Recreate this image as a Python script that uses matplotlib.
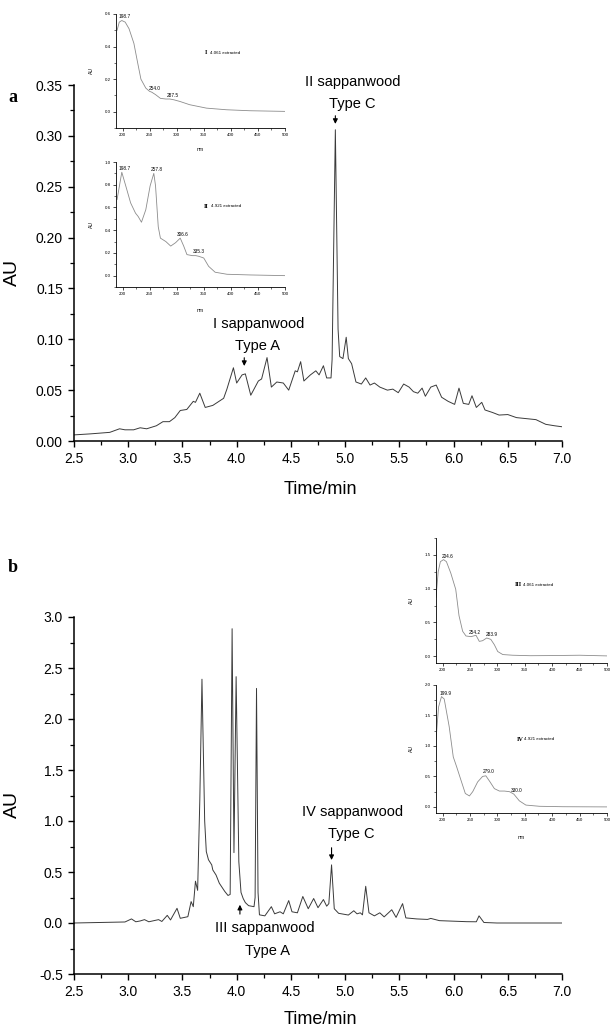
import numpy as np
import matplotlib.pyplot as plt
from matplotlib.ticker import MultipleLocator

plt.rcParams['font.family'] = ['Liberation Sans', 'DejaVu Sans']

# chromatogram a (time in min, AU)
time_a = [2.50, 2.65, 2.83, 2.92, 2.97, 3.05, 3.11, 3.17, 3.26, 3.32, 3.38, 3.43, 3.48,
          3.54, 3.60, 3.62, 3.66, 3.71, 3.78, 3.88, 3.91, 3.97, 4.00, 4.05, 4.08, 4.13,
          4.20, 4.23, 4.28, 4.32, 4.37, 4.43, 4.48, 4.54, 4.56, 4.59, 4.62, 4.68, 4.73,
          4.76, 4.80, 4.83, 4.87, 4.88, 4.91, 4.935, 4.95, 4.98, 5.01, 5.03, 5.06, 5.10,
          5.15, 5.19, 5.23, 5.27, 5.32, 5.39, 5.44, 5.49, 5.54, 5.59, 5.63, 5.67, 5.71,
          5.74, 5.79, 5.84, 5.89, 5.95, 6.01, 6.05, 6.09, 6.14, 6.17, 6.21, 6.26, 6.29,
          6.36, 6.42, 6.50, 6.58, 6.67, 6.76, 6.85, 6.93, 7.00]
au_a = [0.006, 0.007, 0.0085, 0.012, 0.011, 0.011, 0.013, 0.012, 0.015, 0.019, 0.019,
        0.023, 0.030, 0.031, 0.039, 0.038, 0.047, 0.033, 0.035, 0.042, 0.051, 0.072,
        0.057, 0.065, 0.066, 0.045, 0.059, 0.061, 0.082, 0.053, 0.058, 0.057, 0.050,
        0.069, 0.068, 0.078, 0.059, 0.065, 0.069, 0.065, 0.074, 0.062, 0.062, 0.080,
        0.306, 0.110, 0.083, 0.081, 0.102, 0.081, 0.076, 0.058, 0.056, 0.062, 0.055,
        0.057, 0.053, 0.050, 0.051, 0.0475, 0.056, 0.053, 0.0485, 0.047, 0.052, 0.044,
        0.053, 0.055, 0.043, 0.039, 0.036, 0.052, 0.037, 0.036, 0.0445, 0.033, 0.038,
        0.0305, 0.028, 0.0255, 0.026, 0.023, 0.022, 0.021, 0.0164, 0.015, 0.014]

# chromatogram b
time_b = [2.50, 2.83, 2.97, 3.03, 3.07, 3.11, 3.15, 3.19, 3.28, 3.31, 3.36, 3.39, 3.45,
          3.48, 3.55, 3.58, 3.60, 3.62, 3.64, 3.66, 3.68, 3.705, 3.72, 3.74, 3.77, 3.78,
          3.81, 3.84, 3.89, 3.92, 3.94, 3.958, 3.975, 3.995, 4.02, 4.04, 4.06, 4.08,
          4.11, 4.16, 4.17, 4.183, 4.197, 4.21, 4.26, 4.32, 4.35, 4.40, 4.43, 4.48, 4.51,
          4.56, 4.61, 4.66, 4.71, 4.75, 4.80, 4.83, 4.85, 4.875, 4.90, 4.94, 5.03, 5.08,
          5.11, 5.14, 5.16, 5.19, 5.22, 5.27, 5.32, 5.36, 5.43, 5.47, 5.53, 5.56, 5.66,
          5.76, 5.79, 5.87, 6.12, 6.21, 6.235, 6.28, 6.40, 7.00]
au_b = [0.0, 0.007, 0.01, 0.04, 0.012, 0.02, 0.033, 0.012, 0.033, 0.015, 0.075, 0.03,
        0.144, 0.046, 0.062, 0.21, 0.16, 0.41, 0.32, 1.2, 2.39, 1.0, 0.70, 0.62, 0.57,
        0.52, 0.47, 0.39, 0.31, 0.27, 0.28, 2.885, 0.69, 2.415, 0.60, 0.30, 0.24, 0.20,
        0.17, 0.16, 0.25, 2.30, 0.30, 0.08, 0.07, 0.16, 0.09, 0.11, 0.09, 0.22, 0.11,
        0.10, 0.26, 0.14, 0.24, 0.15, 0.23, 0.165, 0.19, 0.57, 0.14, 0.095, 0.078, 0.12,
        0.09, 0.10, 0.08, 0.36, 0.10, 0.07, 0.10, 0.06, 0.13, 0.055, 0.19, 0.05, 0.04,
        0.035, 0.045, 0.023, 0.013, 0.012, 0.07, 0.005, 0.0, 0.0]

# UV spectra (nm, AU)
wl_1 = [190, 194, 198.7, 205, 212, 221, 228, 234, 243, 250, 254, 261, 270, 280, 287.5,
        295, 306, 324, 355, 392, 435, 500]
uv_1 = [0.50, 0.55, 0.56, 0.55, 0.51, 0.42, 0.30, 0.20, 0.145, 0.125, 0.12, 0.105,
        0.082, 0.078, 0.078, 0.073, 0.063, 0.043, 0.022, 0.012, 0.006, 0.002]
wl_2 = [190, 198.7, 206, 215, 224, 229, 235, 243, 251, 257.8, 261, 266, 270, 280, 289,
        298, 306.6, 313, 319, 329, 335.3, 341, 350, 359, 371, 393, 436, 500]
uv_2 = [0.67, 0.91, 0.79, 0.64, 0.55, 0.52, 0.47, 0.58, 0.79, 0.90, 0.79, 0.43, 0.33,
        0.30, 0.26, 0.29, 0.33, 0.26, 0.185, 0.176, 0.176, 0.17, 0.155, 0.082, 0.03,
        0.012, 0.006, 0.0]
wl_3 = [188, 192, 196, 201.8, 207, 215, 224, 230, 236.6, 242.7, 251.8, 261, 267, 273,
        280.5, 288, 294.5, 300.6, 309.8, 328, 360, 400, 450, 500]
uv_3 = [0.87, 1.25, 1.40, 1.43, 1.40, 1.23, 0.99, 0.60, 0.37, 0.30, 0.29, 0.31, 0.22,
        0.23, 0.27, 0.25, 0.17, 0.07, 0.025, 0.015, 0.008, 0.01, 0.015, 0.005]
wl_4 = [188, 192.7, 198, 203, 212, 219.5, 225.6, 233.5, 241.5, 249, 255, 264, 273, 279,
        286.6, 294.5, 303.7, 312.8, 322, 330, 340, 352, 377, 420, 500]
uv_4 = [1.10, 1.64, 1.81, 1.77, 1.32, 0.82, 0.66, 0.44, 0.22, 0.18, 0.25, 0.41, 0.50,
        0.51, 0.41, 0.30, 0.26, 0.26, 0.25, 0.21, 0.10, 0.03, 0.01, 0.003, 0.0]

peaks_1 = ['198.7', '254.0', '287.5']
peaks_2 = ['198.7', '257.8', '306.6', '335.3']
peaks_3 = ['204.6', '254.2', '283.9']
peaks_4 = ['199.9', '279.0', '330.0']

W, H = 614, 1030
fig = plt.figure(figsize=(W / 100, H / 100), dpi=100)


def box(l, t, r, b):
    return [l / W, 1 - b / H, (r - l) / W, (b - t) / H]


def main_axes(rect, x, y, ylim, major, minor):
    ax = fig.add_axes(rect)
    ax.plot(x, y, color='#3a3a3a', lw=0.7)
    ax.set_xlim(2.5, 7.0)
    ax.set_ylim(*ylim)
    for s in ['top', 'right']:
        ax.spines[s].set_visible(False)
    for s in ['left', 'bottom']:
        ax.spines[s].set_linewidth(1.1)
    ax.xaxis.set_major_locator(MultipleLocator(0.5))
    ax.xaxis.set_minor_locator(MultipleLocator(0.25))
    ax.yaxis.set_major_locator(MultipleLocator(major))
    ax.yaxis.set_minor_locator(MultipleLocator(minor))
    ax.tick_params(which='major', direction='out', length=4.5, width=1.0, labelsize=10)
    ax.tick_params(which='minor', direction='out', length=3, width=0.9)
    return ax


def inset(rect, wl, uv, ylim, ymaj, ymin, peaks, tag, rest, tagpos, restx, nm=True):
    ax = fig.add_axes(rect)
    ax.plot(wl, uv, color='#8c8c8c', lw=0.6)
    ax.set_xlim(188, 500)
    ax.set_ylim(*ylim)
    for s in ['top', 'right']:
        ax.spines[s].set_visible(False)
    for s in ['left', 'bottom']:
        ax.spines[s].set_linewidth(0.6)
    ax.xaxis.set_major_locator(MultipleLocator(50))
    ax.xaxis.set_minor_locator(MultipleLocator(25))
    ax.yaxis.set_major_locator(MultipleLocator(ymaj))
    ax.yaxis.set_minor_locator(MultipleLocator(ymin))
    ax.tick_params(which='major', direction='out', length=2, width=0.5, labelsize=3.2, pad=1.5)
    ax.tick_params(which='minor', direction='out', length=1.2, width=0.4)
    ax.set_ylabel('AU', fontsize=3.6)
    ax.yaxis.set_label_coords(-0.13, 0.5)
    if nm:
        ax.set_xlabel('nm', fontsize=3.6)
        ax.xaxis.set_label_coords(0.5, -0.17)
    for p in peaks:
        w = float(p)
        ax.annotate(p, xy=(w, np.interp(w, wl, uv)), xytext=(2, 1), textcoords='offset points',
                    fontsize=3.4, ha='center', va='bottom', annotation_clip=False)
    ax.text(tagpos[0], tagpos[1], tag, transform=ax.transAxes, fontsize=4.5,
            fontweight='bold', family='Liberation Serif', va='center', ha='left')
    ax.text(restx, tagpos[1], rest, transform=ax.transAxes, fontsize=3.2,
            va='center', ha='left')
    return ax


# panel a
ax_a = main_axes(box(74, 85, 562, 441), time_a, au_a, (0, 0.35), 0.05, 0.025)
ax_a.yaxis.set_major_formatter(plt.FormatStrFormatter('%.2f'))
ax_a.annotate('', xy=(4.91, 0.309), xytext=(4.91, 0.3225),
              arrowprops=dict(arrowstyle='-|>', color='k', lw=0.8, mutation_scale=7))
ax_a.text(5.07, 0.353, 'II sappanwood', ha='center', va='center', fontsize=10.5)
ax_a.text(5.07, 0.331, 'Type C', ha='center', va='center', fontsize=10.5)
ax_a.annotate('', xy=(4.07, 0.071), xytext=(4.07, 0.0846),
              arrowprops=dict(arrowstyle='-|>', color='k', lw=0.8, mutation_scale=7))
ax_a.text(4.20, 0.115, 'I sappanwood', ha='center', va='center', fontsize=10.5)
ax_a.text(4.19, 0.0934, 'Type A', ha='center', va='center', fontsize=10.5)

inset(box(116, 14, 285, 128), wl_1, uv_1, (-0.1, 0.6), 0.2, 0.1, peaks_1,
      'I', '4.061 extracted', (0.527, 0.658), 0.556)
inset(box(116, 162, 285, 287), wl_2, uv_2, (-0.1, 1.0), 0.2, 0.1, peaks_2,
      'II', '4.921 extracted', (0.522, 0.648), 0.562)

# panel b
ax_b = main_axes(box(74, 617, 562, 974), time_b, au_b, (-0.5, 3.0), 0.5, 0.25)
ax_b.yaxis.set_major_formatter(plt.FormatStrFormatter('%.1f'))
ax_b.annotate('', xy=(4.875, 0.59), xytext=(4.875, 0.765),
              arrowprops=dict(arrowstyle='-|>', color='k', lw=0.8, mutation_scale=7))
ax_b.text(5.07, 1.09, 'IV sappanwood', ha='center', va='center', fontsize=10.5)
ax_b.text(5.06, 0.87, 'Type C', ha='center', va='center', fontsize=10.5)
ax_b.annotate('', xy=(4.03, 0.206), xytext=(4.03, 0.06),
              arrowprops=dict(arrowstyle='-|>', color='k', lw=0.8, mutation_scale=7))
ax_b.text(4.26, -0.05, 'III sappanwood', ha='center', va='center', fontsize=10.5)
ax_b.text(4.28, -0.27, 'Type A', ha='center', va='center', fontsize=10.5)

inset(box(436, 538, 607, 663), wl_3, uv_3, (-0.1, 1.75), 0.5, 0.25, peaks_3,
      'III', '4.061 extracted', (0.462, 0.624), 0.509, nm=False)
inset(box(436, 685, 607, 813), wl_4, uv_4, (-0.1, 2.0), 0.5, 0.25, peaks_4,
      'IV', '4.921 extracted', (0.475, 0.578), 0.515)

# shared labels
for yy in (272, 805):
    fig.text(12 / W, 1 - yy / H, 'AU', rotation=90, fontsize=14, ha='center', va='center')
for yy in (490, 1020):
    fig.text(320 / W, 1 - yy / H, 'Time/min', fontsize=13, ha='center', va='center')
fig.text(13 / W, 1 - 97 / H, 'a', fontsize=13, fontweight='bold',
         family='Liberation Serif', ha='center', va='center')
fig.text(13 / W, 1 - 568 / H, 'b', fontsize=13, fontweight='bold',
         family='Liberation Serif', ha='center', va='center')

fig.savefig('out.png', dpi=100)
